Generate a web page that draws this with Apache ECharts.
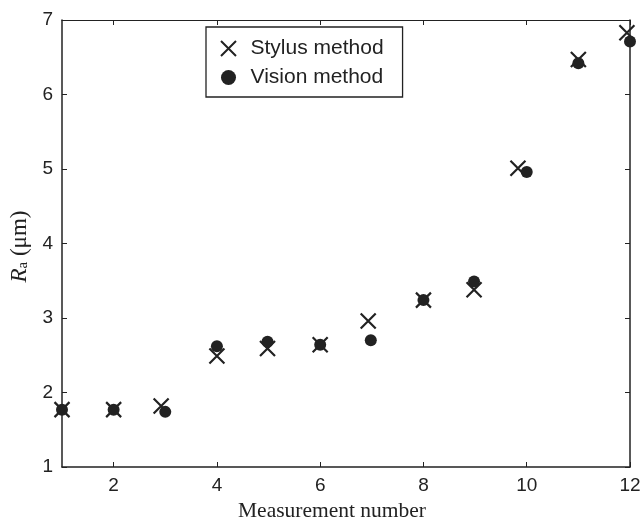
<!DOCTYPE html>
<html>
<head>
<meta charset="utf-8">
<script src="https://cdn.jsdelivr.net/npm/echarts@6/dist/echarts.min.js"></script>
<style>
html,body{margin:0;padding:0;background:#fff;}
#chart{width:640px;height:524px;}
</style>
</head>
<body>
<div id="chart"></div>
<script>
// measured values (x = measurement number, y = Ra in um)
var stylusX = [1, 2, 2.92, 4, 4.98, 6, 6.93, 8, 8.98, 9.83, 11, 11.94];
var stylusY = [1.77, 1.77, 1.82, 2.49, 2.59, 2.64, 2.96, 3.24, 3.38, 5.01, 6.47, 6.83];
var visionX = [1, 2, 3, 4, 4.98, 6, 6.98, 8, 8.98, 10, 11, 12];
var visionY = [1.77, 1.77, 1.74, 2.62, 2.68, 2.64, 2.70, 3.24, 3.49, 4.96, 6.42, 6.71];
var xTicks = [2, 4, 6, 8, 10, 12];
var yTicks = [1, 2, 3, 4, 5, 6, 7];

function pairs(xs, ys){
	var out = [];
	for (var i = 0; i < xs.length; i++) out.push([xs[i], ys[i]]);
	return out;
}

var ink = '#222';
var cross = 'path://M0,0 L10,10 M10,0 L0,10';

var chart = echarts.init(document.getElementById('chart'));
var option = {
	backgroundColor: '#fff',
	animation: false,
	grid: {left: 62, right: 10, top: 20, bottom: 57, outerBoundsMode: 'none', containLabel: false},
	legend: {
		left: 206, top: 27,
		orient: 'vertical',
		borderColor: ink, borderWidth: 1.3,
		padding: [11, 19, 9, 14],
		itemGap: 8,
		itemWidth: 18, itemHeight: 15,
		textStyle: {fontFamily: 'Liberation Sans', fontSize: 21, color: ink, padding: [0, 0, 0, 8]},
		data: [
			{name: 'Stylus method'},
			{name: 'Vision method', itemStyle: {color: ink}, icon: 'path://M0,0 A5,5 0 1 1 0.01,0 Z'}
		]
	},
	xAxis: [{
		type: 'value', min: 1, max: 12,
		name: 'Measurement number', nameLocation: 'middle', nameGap: 33,
		nameTextStyle: {fontFamily: 'Liberation Serif', fontSize: 21.5, color: ink, padding: [0, 28, 0, 0]},
		axisLine: {lineStyle: {color: ink, width: 1.5}},
		axisTick: {inside: true, length: 5, customValues: xTicks, lineStyle: {color: ink}},
		axisLabel: {customValues: xTicks, margin: 9, fontFamily: 'Liberation Sans', fontSize: 19, color: ink},
		splitLine: {show: false}
	}, {
		type: 'value', min: 1, max: 12, position: 'top',
		axisLine: {lineStyle: {color: ink, width: 1.2}},
		axisTick: {inside: true, length: 5, customValues: xTicks, lineStyle: {color: ink}},
		axisLabel: {show: false},
		splitLine: {show: false}
	}],
	yAxis: [{
		type: 'value', min: 1, max: 7, interval: 1,
		name: '{i|R}{s|a} (μm)', nameLocation: 'middle', nameGap: 31, nameRotate: 90,
		nameTextStyle: {
			fontFamily: 'Liberation Serif', fontSize: 23, color: ink, padding: [0, 6, 0, 0],
			rich: {
				i: {fontFamily: 'Liberation Serif', fontStyle: 'italic', fontSize: 23, color: ink},
				s: {fontFamily: 'Liberation Serif', fontSize: 15, color: ink, verticalAlign: 'bottom', padding: [8, 0, 0, 0]}
			}
		},
		axisLine: {lineStyle: {color: ink, width: 1.5}},
		axisTick: {inside: true, length: 5, lineStyle: {color: ink}},
		axisLabel: {margin: 9, fontFamily: 'Liberation Sans', fontSize: 19, color: ink},
		splitLine: {show: false}
	}, {
		type: 'value', min: 1, max: 7, interval: 1, position: 'right',
		axisLine: {lineStyle: {color: ink, width: 1.5}},
		axisTick: {inside: true, length: 5, lineStyle: {color: ink}},
		axisLabel: {show: false},
		splitLine: {show: false}
	}],
	series: [{
		name: 'Stylus method',
		type: 'scatter',
		symbol: cross, symbolSize: 15,
		itemStyle: {color: 'transparent', borderColor: ink, borderWidth: 2.2, opacity: 1},
		data: pairs(stylusX, stylusY),
		z: 2
	}, {
		name: 'Vision method',
		type: 'scatter',
		symbol: 'circle', symbolSize: 12,
		itemStyle: {color: ink, opacity: 1},
		data: pairs(visionX, visionY),
		z: 3
	}]
};
chart.setOption(option);
</script>
</body>
</html>
